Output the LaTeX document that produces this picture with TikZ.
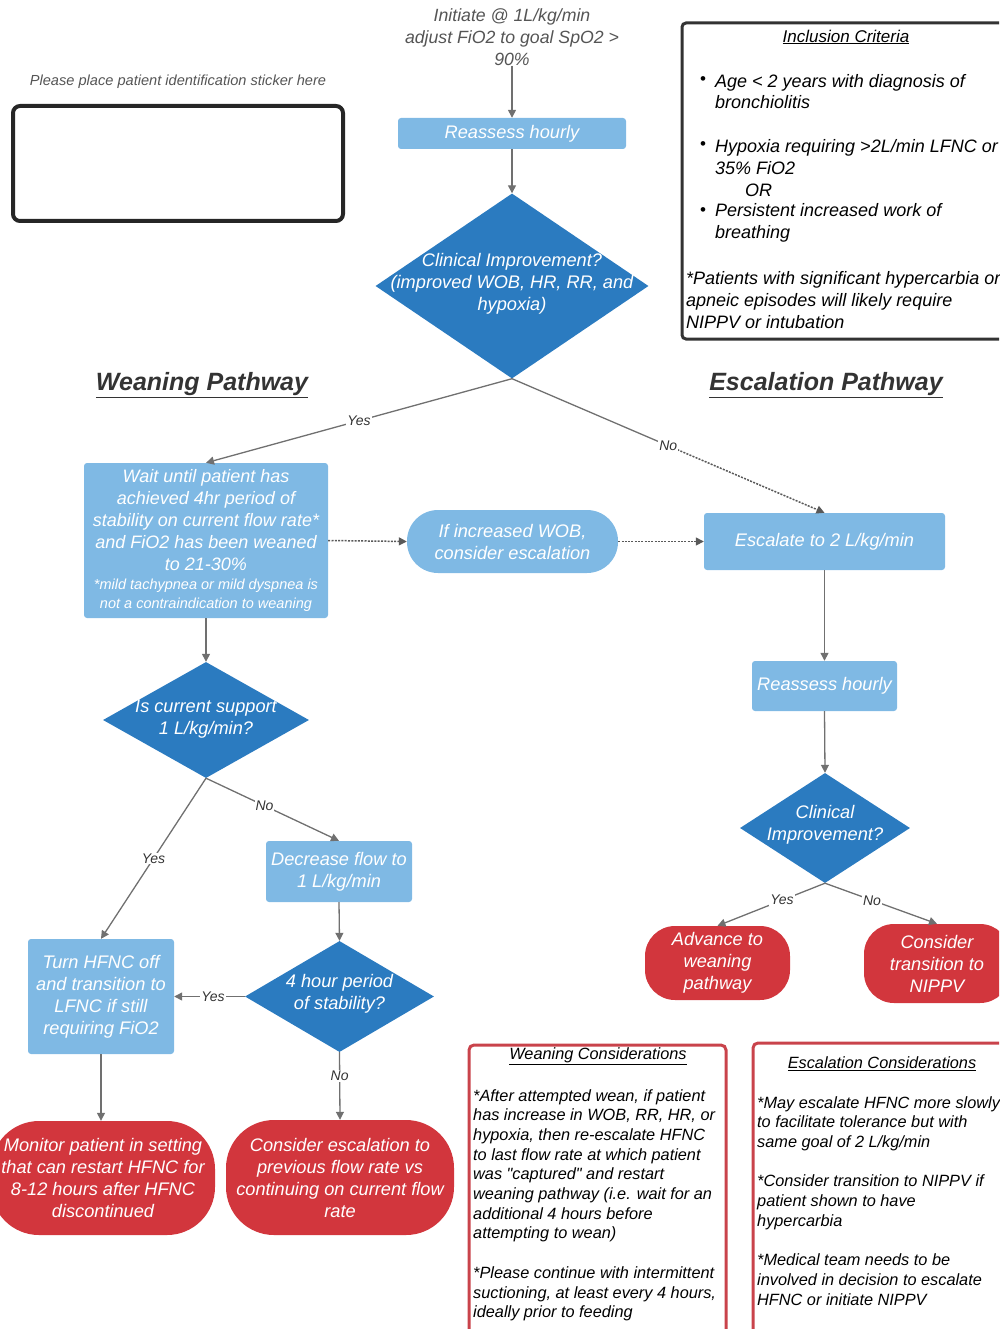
\documentclass[tikz,border=0pt]{standalone}
\usepackage{fontspec}
\setmainfont{Liberation Sans}[Ligatures=TeXOff]
\usetikzlibrary{shapes.geometric,arrows.meta}
\definecolor{lblue}{HTML}{7FB9E4}
\definecolor{dblue}{HTML}{2B7BC0}
\definecolor{rred}{HTML}{D2363D}
\definecolor{lcol}{HTML}{707070}
\definecolor{tcol}{HTML}{333333}
\definecolor{gcol}{HTML}{555555}
\definecolor{bred}{HTML}{C9434B}
\newcommand\fsBig{\fontsize{18.2}{22}\selectfont\itshape}
\newcommand\fsSm{\fontsize{14.5}{19}\selectfont\itshape}
\newcommand\fsLab{\fontsize{14}{16}\selectfont\itshape}
\newcommand\fsInc{\fontsize{18}{21.8}\selectfont\itshape}
\newcommand\fsCons{\fontsize{16.3}{19.7}\selectfont\itshape}
\newcommand\fsHead{\fontsize{25}{28}\selectfont\bfseries\itshape}
\begin{document}
\begin{tikzpicture}[x=1pt,y=-1pt,
  lbox/.style={rectangle, fill=lblue, rounded corners=3pt, text=white, font=\fsBig, align=center, inner sep=0pt},
  rstad/.style={rectangle, fill=rred, text=white, font=\fsBig, align=center, inner sep=0pt},
  bstad/.style={rectangle, fill=lblue, text=white, font=\fsBig, align=center, inner sep=0pt},
  diam/.style={diamond, fill=dblue, inner sep=0pt, aspect=1},
  dtext/.style={text=white, font=\fsBig, align=center, inner sep=0pt},
  conn/.style={draw=lcol, line width=1.3pt},
  arr/.style={conn, -{Triangle[length=8pt,width=8pt]}},
  dotl/.style={draw=black!65, line width=1.5pt, dash pattern=on 2pt off 1.3pt},
  lbl/.style={fill=white, text=tcol, font=\fsLab, inner sep=1pt},
  ctext/.style={text=black, font=\fsCons, align=left, inner sep=0pt, anchor=north west},
  itext/.style={text=black, font=\fsInc, align=left, inner sep=0pt, anchor=west},
  bul/.style={text=black, font=\fontsize{17}{18}\selectfont, inner sep=0pt}
]
\useasboundingbox (0,0) rectangle (999,1329);
\clip (0,0) rectangle (999,1329);

% top
\node[text=gcol, font=\fontsize{17.7}{22}\selectfont\itshape, align=center, inner sep=0pt] (init) at (512,37)
  {Initiate @ 1L/kg/min\\adjust FiO2 to goal SpO2 >\\90\%};
\node[lbox, minimum width=228, minimum height=31] (r1) at (512,133.5) {Reassess hourly};
\node[diam, minimum width=273, minimum height=185] (d1) at (512,286) {};
\node[dtext] (d1t) at (512,284) {Clinical Improvement?\\(improved WOB, HR, RR, and\\hypoxia)};

% sticker
\node[text=gcol, font=\fontsize{14.6}{16}\selectfont\itshape, inner sep=0pt] (stk) at (178,82) {Please place patient identification sticker here};
\draw[draw=black!85, line width=4pt, rounded corners=7pt] (13,106) rectangle (343,221);

% inclusion
\draw[draw=tcol, line width=3pt, rounded corners=4pt] (682,23) rectangle (1015,339);
\node[text=black, font=\fontsize{17}{20}\selectfont\itshape, inner sep=0pt] (inct) at (846,37) {\underline{Inclusion Criteria}};
\node[bul] (b1) at (703,81) {•};
\node[itext] (i1) at (715,91.5) {Age < 2 years with diagnosis of\\bronchiolitis};
\node[bul] (b2) at (703,146) {•};
\node[itext] (i2) at (715,157) {Hypoxia requiring >2L/min LFNC or\\35\% FiO2};
\node[itext] (ior) at (745,190) {OR};
\node[bul] (b3) at (703,212) {•};
\node[itext] (i3) at (715,223) {Persistent increased work of\\breathing};
\node[itext] (i4) at (686,300) {*Patients with significant hypercarbia or\\apneic episodes will likely require\\NIPPV or intubation};

% headings
\node[text=tcol, font=\fsHead, inner sep=0pt] (wp) at (202,385) {\underline{Weaning Pathway}};
\node[text=tcol, font=\fsHead, inner sep=0pt] (ep) at (826,385) {\underline{Escalation Pathway}};

% weaning side
\node[lbox, font=\fontsize{18}{22}\selectfont\itshape, minimum width=244, minimum height=155] (wait) at (206,540.5)
  {Wait until patient has\\achieved 4hr period of\\stability on current flow rate*\\and FiO2 has been weaned\\to 21-30\%\\[-3pt]{\fsSm *mild tachypnea or mild dyspnea is}\\[-3pt]{\fsSm not a contraindication to weaning}};
\node[bstad, rounded corners=31pt, minimum width=211, minimum height=63] (wob) at (512.5,541.5) {If increased WOB,\\consider escalation};
\node[diam, minimum width=206, minimum height=116] (d2) at (206,720) {};
\node[dtext] (d2t) at (206,719) {Is current support\\1 L/kg/min?};
\node[lbox, minimum width=146, minimum height=61] (dec) at (339,871.5) {Decrease flow to\\1 L/kg/min};
\node[diam, minimum width=189, minimum height=111] (d3) at (339.5,996.5) {};
\node[dtext] (d3t) at (339.5,994) {4 hour period\\of stability?};
\node[lbox, minimum width=146, minimum height=115] (turn) at (101,996.5) {Turn HFNC off\\and transition to\\LFNC if still\\requiring FiO2};
\node[rstad, rounded corners=48pt, minimum width=224, minimum height=114] (mon) at (103,1178) {Monitor patient in setting\\that can restart HFNC for\\8-12 hours after HFNC\\discontinued};
\node[rstad, rounded corners=48pt, minimum width=228, minimum height=115] (cesc) at (340,1177.5) {Consider escalation to\\previous flow rate vs\\continuing on current flow\\rate};

% escalation side
\node[lbox, minimum width=241, minimum height=57] (esc) at (824.5,541.5) {Escalate to 2 L/kg/min};
\node[lbox, minimum width=145, minimum height=50] (r2) at (824.5,686) {Reassess hourly};
\node[diam, minimum width=170, minimum height=110] (d4) at (825,828) {};
\node[dtext] (d4t) at (825,825) {Clinical\\Improvement?};
\node[rstad, rounded corners=30pt, minimum width=145, minimum height=74] (adv) at (717.5,963) {Advance to\\weaning\\pathway};
\node[rstad, rounded corners=30pt, minimum width=146, minimum height=79] (nip) at (937,963.5) {Consider\\transition to\\NIPPV};

% considerations boxes
\draw[draw=bred, line width=3pt, rounded corners=5pt] (469,1045) rectangle (726,1340);
\node[text=black, font=\fsCons, inner sep=0pt] (wct) at (598,1056) {\underline{Weaning Considerations}};
\node[ctext] (wc) at (473,1089)
  {*After attempted wean, if patient\\has increase in WOB, RR, HR, or\\hypoxia, then re-escalate HFNC\\to last flow rate at which patient\\was "captured" and restart\\weaning pathway (i.e. wait for an\\additional 4 hours before\\attempting to wean)\\[19.7pt]*Please continue with intermittent\\suctioning, at least every 4 hours,\\ideally prior to feeding};
\draw[draw=bred, line width=3pt, rounded corners=5pt] (753,1043) rectangle (1015,1340);
\node[text=black, font=\fsCons, inner sep=0pt] (ect) at (882,1064) {\underline{Escalation Considerations}};
\node[ctext] (ec) at (757,1096)
  {*May escalate HFNC more slowly\\to facilitate tolerance but with\\same goal of 2 L/kg/min\\[19.7pt]*Consider transition to NIPPV if\\patient shown to have\\hypercarbia\\[19.7pt]*Medical team needs to be\\involved in decision to escalate\\HFNC or initiate NIPPV};

% connectors
\draw[arr] (init.south) -- (r1.north);
\draw[arr] (r1.south) -- (d1.north);
\draw[arr] (d1.south) -- node[lbl, pos=0.5] {Yes} (wait.north);
\path (d1.south) -- (esc.north) coordinate[pos=0.5] (nomid);
\draw[conn] (d1.south) -- (nomid);
\draw[arr, dotl] (nomid) -- (esc.north);
\node[lbl] (nol) at (nomid) {No};
\draw[arr, dotl] (wait.east) -- (wob.west);
\draw[arr, dotl] (wob.east) -- (esc.west);
\draw[arr] (wait.south) -- (d2.north);
\draw[arr] (d2.south) -- node[lbl, pos=0.44] {No} (dec.north);
\draw[arr] (d2.south) -- node[lbl, pos=0.5] {Yes} (turn.north);
\draw[arr] (dec.south) -- (d3.north);
\draw[arr] (d3.west) -- node[lbl, pos=0.45] {Yes} (turn.east);
\draw[arr] (d3.south) -- node[lbl, pos=0.35] {No} (cesc.north);
\draw[arr] (turn.south) -- (turn.south |- mon.north);
\draw[arr] (esc.south) -- (r2.north);
\draw[arr] (r2.south) -- (d4.north);
\draw[arr] (d4.south) -- node[lbl, pos=0.4] {Yes} (adv.north);
\draw[arr] (d4.south) -- node[lbl, pos=0.42] {No} (nip.north);
\end{tikzpicture}
\end{document}
